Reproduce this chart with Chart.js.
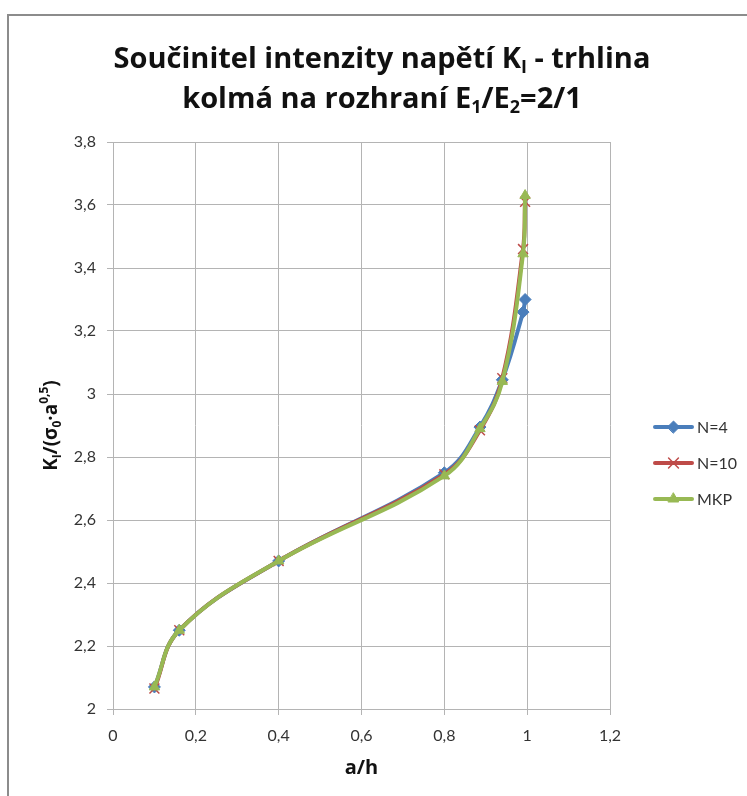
<!DOCTYPE html>
<html>
<head>
<meta charset="utf-8">
<script src="https://cdn.jsdelivr.net/npm/chart.js@4/dist/chart.umd.min.js"></script>
<style>
  body { margin: 0; background: #fff; overflow: hidden; }
  #wrap { position: relative; width: 747px; height: 796px; overflow: hidden; font-family: "Open Sans", sans-serif; color: #111; }
  #frame { position: absolute; left: 7px; top: 14px; width: 800px; height: 850px; border: 2px solid #8c8c8c; box-sizing: border-box; }
  #myChart { position: absolute; left: 0; top: 0; }
  #title { position: absolute; left: 32px; width: 700px; top: 37px; text-align: center; font-weight: bold; font-size: 29px; line-height: 40px; }
  sub { font-size: 62%; vertical-align: baseline; position: relative; line-height: 0; top: 0.3em; }
</style>
</head>
<body>
<div id="wrap">
  <div id="frame"></div>
  <canvas id="myChart" width="747" height="796"></canvas>
  <div id="title">Součinitel intenzity napětí K<sub>I</sub> - trhlina<br>kolmá na rozhraní E<sub>1</sub>/E<sub>2</sub>=2/1</div>
</div>
<script>
// a/h values (same for all series)
const aH = [0.1, 0.16, 0.4, 0.8, 0.886, 0.94, 0.99, 0.995];
const n4 = [2.07, 2.25, 2.47, 2.75, 2.895, 3.045, 3.26, 3.30];
const n10 = [2.065, 2.25, 2.47, 2.745, 2.885, 3.05, 3.46, 3.61];
const mkp = [2.07, 2.25, 2.47, 2.74, 2.89, 3.04, 3.445, 3.63];

const xTicks = [0, 0.2, 0.4, 0.6, 0.8, 1, 1.2];
const yTicks = [2, 2.2, 2.4, 2.6, 2.8, 3, 3.2, 3.4, 3.6, 3.8];

// y axis title split in pieces: 0 normal, 1 subscript, 2 superscript
const yTitleParts = [['K', 0], ['I', 1], ['/(σ', 0], ['0', 1], ['·a', 0], ['0,5', 2], [')', 0]];

const gridColor = '#b4b4b4';
const textColor = '#333';

function fmt(v) {
  return String(Math.round(v * 10) / 10).replace('.', ',');
}

function toPoints(ys) {
  return aH.map((x, i) => ({ x: x, y: ys[i] }));
}

// rotated y axis title with sub/superscripts
const yTitle = {
  id: 'yTitle',
  afterDraw(chart) {
    const c = chart.ctx;
    const big = 'bold 19px "Open Sans"';
    const small = 'bold 12px "Open Sans"';
    let w = 0;
    yTitleParts.forEach(p => {
      c.font = p[1] ? small : big;
      w += c.measureText(p[0]).width;
    });
    c.save();
    c.translate(50, (chart.chartArea.top + chart.chartArea.bottom) / 2);
    c.rotate(-Math.PI / 2);
    c.fillStyle = '#111';
    c.textBaseline = 'alphabetic';
    let x = -w / 2;
    yTitleParts.forEach(p => {
      c.font = p[1] ? small : big;
      const dy = p[1] === 1 ? 4 : (p[1] === 2 ? -9 : 0);
      c.fillText(p[0], x, 7 + dy);
      x += c.measureText(p[0]).width;
    });
    c.restore();
  }
};

// legend with line + marker like in Excel
const lineLegend = {
  id: 'lineLegend',
  afterDraw(chart) {
    const c = chart.ctx;
    const ys = [427, 463, 499];
    chart.data.datasets.forEach((ds, i) => {
      const y = ys[i];
      c.save();
      c.strokeStyle = ds.borderColor;
      c.lineWidth = 4;
      c.lineCap = 'round';
      c.beginPath();
      c.moveTo(655, y);
      c.lineTo(692, y);
      c.stroke();
      c.fillStyle = ds.pointBackgroundColor;
      c.strokeStyle = ds.pointBorderColor;
      c.lineWidth = ds.pointBorderWidth;
      Chart.helpers.drawPoint(c, { pointStyle: ds.pointStyle, radius: ds.pointRadius, borderWidth: ds.pointBorderWidth }, 673.5, y);
      c.fillStyle = textColor;
      c.font = '16px Lato';
      c.textBaseline = 'middle';
      c.fillText(ds.label, 697, y + 1);
      c.restore();
    });
  }
};

const ctx = document.getElementById('myChart').getContext('2d');

let myChart = new Chart(ctx, {
  type: 'scatter',
  data: {
    datasets: [{
      label: 'N=4',
      data: toPoints(n4),
      showLine: true,
      borderColor: '#4a7ebb',
      borderWidth: 4,
      tension: 0.4,
      pointStyle: 'rectRot',
      pointRadius: 6,
      pointBackgroundColor: '#4a7ebb',
      pointBorderColor: '#4a7ebb',
      pointBorderWidth: 1,
      order: 3
    },
    {
      label: 'N=10',
      data: toPoints(n10),
      showLine: true,
      borderColor: '#be4b48',
      borderWidth: 4,
      tension: 0.4,
      pointStyle: 'crossRot',
      pointRadius: 7,
      pointBackgroundColor: '#be4b48',
      pointBorderColor: '#be4b48',
      pointBorderWidth: 1.5,
      order: 2
    },
    {
      label: 'MKP',
      data: toPoints(mkp),
      showLine: true,
      borderColor: '#98b954',
      borderWidth: 4,
      tension: 0.4,
      pointStyle: 'triangle',
      pointRadius: 6,
      pointBackgroundColor: '#98b954',
      pointBorderColor: '#98b954',
      pointBorderWidth: 1,
      order: 1
    }]
  },
  options: {
    responsive: false,
    animation: false,
    layout: {
      padding: { left: 0, top: 142, right: 137, bottom: 0 }
    },
    scales: {
      x: {
        type: 'linear',
        min: 0,
        max: 1.2,
        afterBuildTicks: scale => { scale.ticks = xTicks.map(v => ({ value: v })); },
        afterFit: scale => { scale.height = 87; },
        grid: { color: gridColor, tickLength: 6 },
        border: { color: gridColor },
        ticks: {
          color: textColor,
          font: { family: 'Lato', size: 16 },
          padding: 11,
          maxRotation: 0,
          callback: v => fmt(v)
        },
        title: {
          display: true,
          text: 'a/h',
          color: '#111',
          font: { family: 'Open Sans', size: 20, weight: 'bold' },
          padding: { top: 0, bottom: 16 }
        }
      },
      y: {
        type: 'linear',
        min: 2,
        max: 3.8,
        afterBuildTicks: scale => { scale.ticks = yTicks.map(v => ({ value: v })); },
        afterFit: scale => { scale.width = 113; },
        grid: { color: gridColor, tickLength: 6 },
        border: { color: gridColor },
        ticks: {
          color: textColor,
          font: { family: 'Lato', size: 16 },
          padding: 11,
          callback: v => fmt(v)
        }
      }
    },
    plugins: {
      legend: { display: false },
      tooltip: { enabled: false }
    }
  },
  plugins: [yTitle, lineLegend]
});
</script>
</body>
</html>
